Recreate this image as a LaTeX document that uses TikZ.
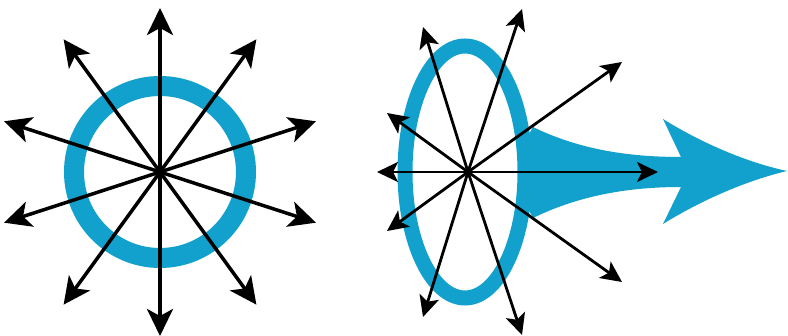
\documentclass[tikz,border=0pt]{standalone}
\usetikzlibrary{arrows.meta}
\definecolor{ringblue}{RGB}{18,160,204}
\begin{document}
\begin{tikzpicture}[x=1pt,y=-1pt,
	ray/.style={line width=3.5pt,-{Stealth[length=27pt,width=26pt,inset=7pt]}},
	thinray/.style={line width=2.8pt,-{Stealth[length=21pt,width=20pt,inset=5pt]}}]
	\useasboundingbox (0,0) rectangle (788,336);
	
	% Left: ring at rest
	\coordinate (L) at (160,172);
	\draw[ringblue,line width=20pt] (L) circle (86);
	
	% Rays in all directions, every 36 degrees
	\foreach \a in {18,54,90,126,162,198,234,270,306,342}{
		\path (L) ++(\a:164) coordinate (l\a);
		\draw[ray] (L) -- (l\a);
	}
	
	% Right: moving ring, beam pushed forward
	\coordinate (R) at (468,172);
	\fill[ringblue] (533,127) .. controls (580,150) and (630,157) .. (681,157)
		-- (663,119) .. controls (700,142) and (745,162) .. (787,171)
		.. controls (745,181) and (700,201) .. (663,224)
		-- (681,187) .. controls (630,187) and (580,195) .. (533,218)
		.. controls (517,190) and (517,153) .. (533,127) -- cycle;
	\draw[ringblue,line width=15pt] (465,172) ellipse (60 and 126);
	
	% Rays, mirrored above and below the axis
	\foreach \dx/\dy/\n in {54/163/a, -45/145/b, 154/110/c, -81/59/d}{
		\path (R) ++(\dx,-\dy) coordinate (u\n);
		\path (R) ++(\dx,\dy) coordinate (d\n);
		\draw[thinray] (R) -- (u\n);
		\draw[thinray] (R) -- (d\n);
	}
	\path (R) ++(-91,0) coordinate (back);
	\path (R) ++(190,0) coordinate (front);
	\draw[thinray] (R) -- (back);
	\draw[thinray] (R) -- (front);
\end{tikzpicture}
\end{document}
